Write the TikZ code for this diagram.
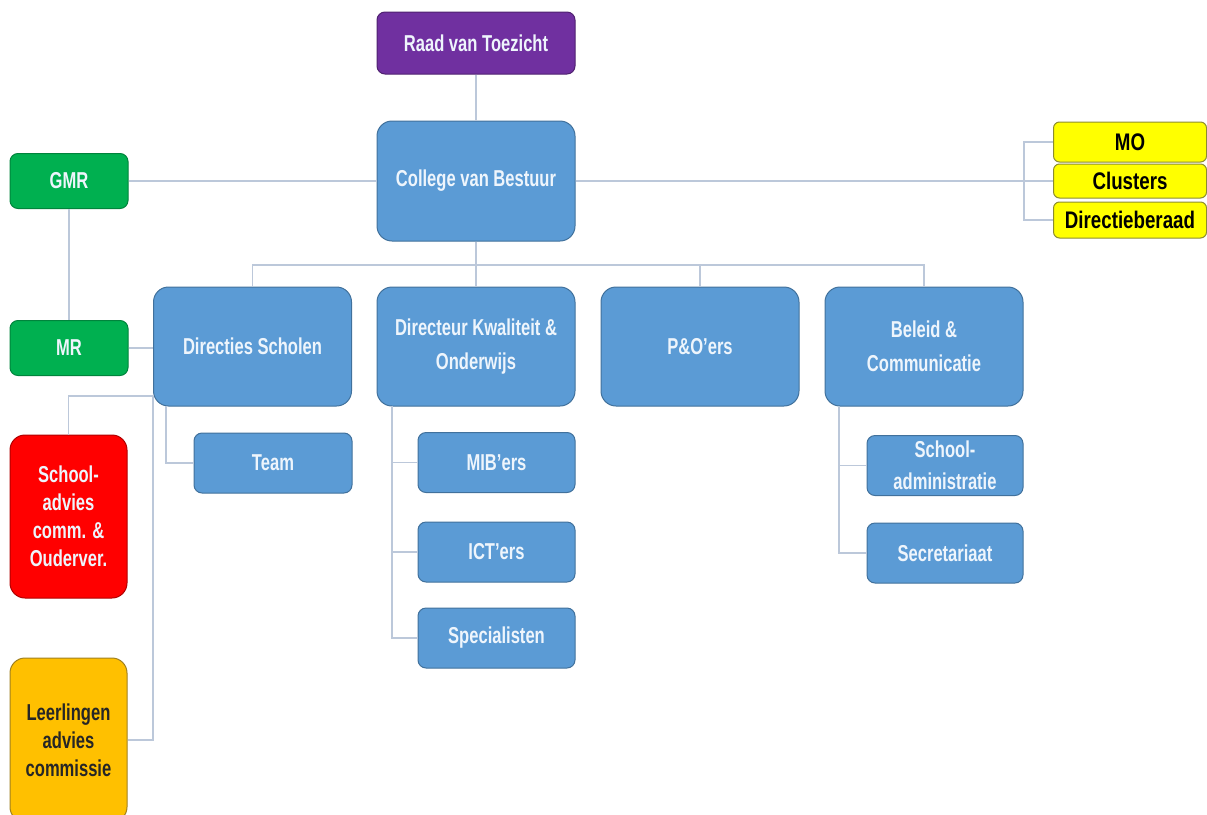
\documentclass[tikz,border=0pt]{standalone}
\usepackage{fontspec}
\setmainfont{Liberation Sans}[FakeStretch=0.72]
\newfontfamily\yfont{Liberation Sans}[FakeStretch=0.78]
\definecolor{bluefill}{HTML}{5B9BD5}
\definecolor{blueline}{HTML}{41719C}
\definecolor{purplefill}{HTML}{7030A0}
\definecolor{purpleline}{HTML}{4F2170}
\definecolor{greenfill}{HTML}{00B050}
\definecolor{greenline}{HTML}{00843C}
\definecolor{redfill}{HTML}{FF0000}
\definecolor{redline}{HTML}{B00000}
\definecolor{orangefill}{HTML}{FFC000}
\definecolor{orangeline}{HTML}{A08020}
\definecolor{yellowfill}{HTML}{FFFF00}
\definecolor{yellowline}{HTML}{8C8C30}
\definecolor{conn}{HTML}{BCC8DA}
\definecolor{paletext}{HTML}{EEF5FC}
\tikzset{
  box/.style={rectangle, rounded corners=12pt, inner sep=0pt, align=center,
    font=\fontsize{23}{28}\selectfont\bfseries, line width=1pt},
  bluebig/.style={box, fill=bluefill, draw=blueline, text=paletext,
    minimum width=198pt, minimum height=119pt, rounded corners=15pt},
  bluesmall/.style={box, fill=bluefill, draw=blueline, text=paletext,
    minimum width=157pt, minimum height=60pt, rounded corners=8pt},
  greenbox/.style={box, fill=greenfill, draw=greenline, text=paletext,
    minimum width=118pt, minimum height=55pt, rounded corners=8pt},
  yellowbox/.style={box, fill=yellowfill, draw=yellowline, text=black,
    minimum width=153pt, rounded corners=6pt, font=\yfont\fontsize{24}{26}\selectfont\bfseries},
  cline/.style={draw=conn, line width=1.4pt},
}
\begin{document}
\begin{tikzpicture}[x=1pt,y=-1pt]
\useasboundingbox (0,0) rectangle (1207,814);
% top
\node[box, fill=purplefill, draw=purpleline, text=paletext, minimum width=198pt, minimum height=62pt, rounded corners=8pt] (raad) at (476,43) {Raad van Toezicht};
\node[bluebig, minimum height=120pt] (cvb) at (476,181) {College van Bestuur};
% left councils
\node[greenbox] (gmr) at (69,181) {GMR};
\node[greenbox] (mr) at (69,348) {MR};
% yellow
\node[yellowbox, minimum height=40pt] (mo) at (1130,142) {MO};
\node[yellowbox, minimum height=34pt] (clu) at (1130,181) {Clusters};
\node[yellowbox, minimum height=36pt] (dbr) at (1130,220) {Directieberaad};
% second level
\node[bluebig] (ds) at (252.5,346.5) {Directies Scholen};
\node[bluebig, font=\fontsize{23}{34}\selectfont\bfseries] (dko) at (476,346.5) {Directeur Kwaliteit \&\\Onderwijs};
\node[bluebig] (po) at (700,346.5) {P\&O'ers};
\node[bluebig, font=\fontsize{23}{34}\selectfont\bfseries] (bc) at (924,346.5) {Beleid \&\\Communicatie};
% third level
\node[bluesmall, minimum width=158pt] (team) at (273,463) {Team};
\node[bluesmall] (mib) at (496.5,462.5) {MIB'ers};
\node[bluesmall] (ict) at (496.5,552) {ICT'ers};
\node[bluesmall] (spec) at (496.5,638) {Specialisten};
\node[bluesmall, minimum width=156pt, font=\fontsize{23}{32}\selectfont\bfseries] (sa) at (945,465.5) {School-\\administratie};
\node[bluesmall, minimum width=156pt] (sec) at (945,553) {Secretariaat};
% red and orange
\node[box, fill=redfill, draw=redline, text=paletext, minimum width=117pt, minimum height=163pt, rounded corners=15pt] (red) at (68.5,516.5) {School-\\advies\\comm. \&\\Ouderver.};
\node[box, fill=orangefill, draw=orangeline, text=black!85, minimum width=117pt, minimum height=164pt, rounded corners=15pt] (ora) at (68.5,740) {Leerlingen\\advies\\commissie};
% connectors
\coordinate (bus) at (0,265);
\draw[cline] (raad.south) -- (cvb.north);
\draw[cline] (gmr.east) -- (cvb.west);
\draw[cline] (gmr.south) -- (mr.north);
\draw[cline] (mr.east) -- (ds.west |- mr.east);
\draw[cline] (cvb.east) -- (mo.west |- cvb.east);
\coordinate (yb) at (1024,181);
\draw[cline] (mo.west) -| (yb) |- (dbr.west);
\draw[cline] (cvb.south) -- (cvb.south |- bus);
\draw[cline] (ds.north) -- (ds.north |- bus) -- (bc.north |- bus) -- (bc.north);
\draw[cline] (dko.north |- bus) -- (dko.north);
\draw[cline] (po.north |- bus) -- (po.north);
\coordinate (tj) at (166,406);
\draw[cline] (tj) |- (team.west);
\coordinate (dj) at (392,406);
\draw[cline] (dj) |- (spec.west);
\draw[cline] (dj |- mib.west) -- (mib.west);
\draw[cline] (dj |- ict.west) -- (ict.west);
\coordinate (bj) at (839,407);
\draw[cline] (bj) |- (sec.west);
\draw[cline] (bj |- sa.west) -- (sa.west);
\coordinate (lj) at (153,396);
\draw[cline] (red.north) |- (lj) |- (ora.east);
\end{tikzpicture}
\end{document}
